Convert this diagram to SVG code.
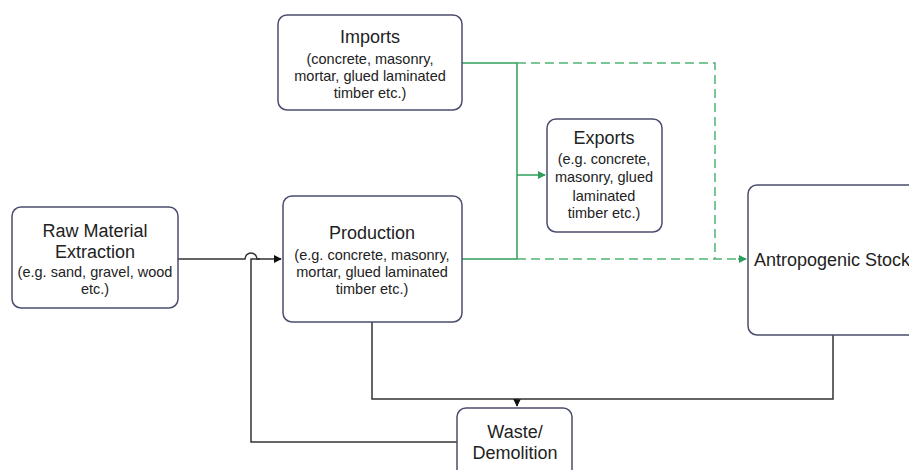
<svg xmlns="http://www.w3.org/2000/svg" width="909" height="470" viewBox="0 0 909 470">
<defs>
<style>
.box{fill:#fff;stroke:#4b4d6e;stroke-width:1.5}
.t{font-family:"Liberation Sans",Arial,sans-serif;fill:#222;text-anchor:middle}
.h{font-size:18px}
.s{font-size:14.5px}
.k{fill:none;stroke:#333;stroke-width:1.5}
.g{fill:none;stroke:#2e9e5a;stroke-width:1.5}
.gd{fill:none;stroke:#4fb474;stroke-width:1.5;stroke-dasharray:9 5}
</style>
<marker id="ak" viewBox="0 0 10 10" refX="9" refY="5" markerWidth="8" markerHeight="8" orient="auto" markerUnits="userSpaceOnUse"><path d="M0,0L10,5L0,10z" fill="#111"/></marker>
<marker id="ag" viewBox="0 0 10 10" refX="9" refY="5" markerWidth="8" markerHeight="8" orient="auto" markerUnits="userSpaceOnUse"><path d="M0,0L10,5L0,10z" fill="#2e9e5a"/></marker>
</defs>
<g id="connectors">
<path class="k" d="M178,259 H245 A6,6 0 0 1 257,259 H281" marker-end="url(#ak)"/>
<path class="k" d="M457,442 H251 V259 H260"/>
<path class="k" d="M372,322 V399 H517 V406" marker-end="url(#ak)"/>
<path class="k" d="M833,335 V399 H517"/>
<path class="g" d="M461,63 H517 V259"/>
<path class="g" d="M462,259 H517"/>
<path class="g" d="M517,175 H545" stroke-width="2" marker-end="url(#ag)"/>
<path class="gd" d="M517,63 H715 V259"/>
<path class="gd" d="M517,259 H740"/>
<path class="g" d="M738,259 H746" marker-end="url(#ag)"/>
</g>
<g id="imports">
<rect class="box" x="278" y="15" width="184" height="95" rx="9"/>
<text class="t h" x="370" y="43">Imports</text>
<text class="t s" x="370" y="64">(concrete, masonry,</text>
<text class="t s" x="370" y="81">mortar, glued laminated</text>
<text class="t s" x="370" y="98">timber etc.)</text>
</g>
<g id="raw">
<rect class="box" x="12" y="207" width="166" height="101" rx="9"/>
<text class="t h" x="95" y="237">Raw Material</text>
<text class="t h" x="95" y="258">Extraction</text>
<text class="t s" x="95" y="277">(e.g. sand, gravel, wood</text>
<text class="t s" x="95" y="294">etc.)</text>
</g>
<g id="production">
<rect class="box" x="283" y="196" width="179" height="126" rx="9"/>
<text class="t h" x="372" y="239">Production</text>
<text class="t s" x="372" y="260">(e.g. concrete, masonry,</text>
<text class="t s" x="372" y="277">mortar, glued laminated</text>
<text class="t s" x="372" y="294">timber etc.)</text>
</g>
<g id="exports">
<rect class="box" x="547" y="119" width="115" height="113" rx="9"/>
<text class="t h" x="604" y="144">Exports</text>
<text class="t s" x="604" y="164">(e.g. concrete,</text>
<text class="t s" x="604" y="182">masonry, glued</text>
<text class="t s" x="604" y="201">laminated</text>
<text class="t s" x="604" y="218">timber etc.)</text>
</g>
<g id="stock">
<rect class="box" x="748" y="185" width="170" height="150" rx="9"/>
<text class="t h" x="754" y="266" style="text-anchor:start">Antropogenic Stock</text>
</g>
<g id="waste">
<rect class="box" x="457" y="408" width="115" height="80" rx="9"/>
<text class="t h" x="515" y="438">Waste/</text>
<text class="t h" x="515" y="459">Demolition</text>
</g>
</svg>
